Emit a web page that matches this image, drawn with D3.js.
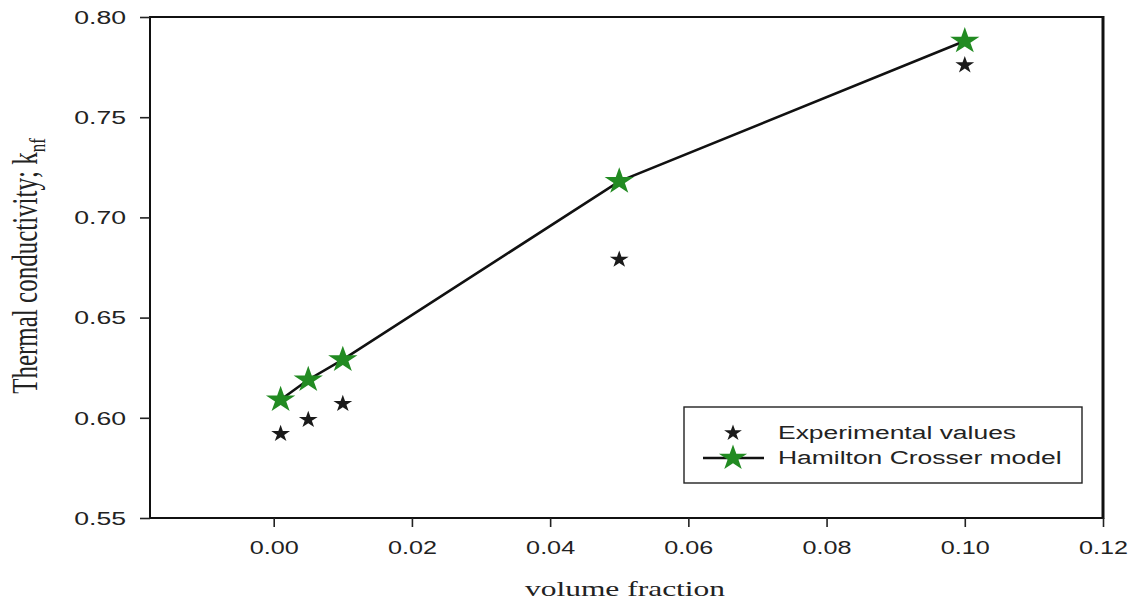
<!DOCTYPE html>
<html>
<head>
<meta charset="utf-8">
<script src="https://cdn.jsdelivr.net/npm/d3@7"></script>
<style>
  html, body { margin: 0; padding: 0; background: #fff; }
  svg { display: block; }
</style>
</head>
<body>
<svg id="chart" width="1137" height="605"></svg>
<script>
// Volume fractions of the nanofluid samples
const volumeFraction = [0.001, 0.005, 0.01, 0.05, 0.10];
// Measured thermal conductivity
const experimental = [0.592, 0.599, 0.607, 0.679, 0.776];
// Hamilton–Crosser model prediction
const hamiltonCrosser = [0.609, 0.619, 0.629, 0.718, 0.788];
const xTicks = [0.00, 0.02, 0.04, 0.06, 0.08, 0.10, 0.12];
const yTicks = [0.55, 0.60, 0.65, 0.70, 0.75, 0.80];
const legendLabels = ["Experimental values", "Hamilton Crosser model"];

const svg = d3.select("#chart");
const plotLeft = 150, plotRight = 1103, plotTop = 17, plotBottom = 518;

const x = d3.scaleLinear().domain([-0.0179, 0.12]).range([plotLeft, plotRight]);
const y = d3.scaleLinear().domain([0.55, 0.80]).range([plotBottom, plotTop]);

const green = "#228B22";
const ink = "#222";
const sansFont = "'Liberation Sans', Arial, sans-serif";
const serifFont = "'Liberation Serif', 'Times New Roman', serif";
// The figure's lettering is set wide
const wide = 1.44;

// Frame
svg.append("rect")
  .attr("x", plotLeft).attr("y", plotTop)
  .attr("width", plotRight - plotLeft).attr("height", plotBottom - plotTop)
  .attr("fill", "none").attr("stroke", "#111").attr("stroke-width", 2);
svg.append("line")
  .attr("x1", plotRight).attr("x2", plotRight).attr("y1", plotTop - 1).attr("y2", plotBottom + 1)
  .attr("stroke", "#111").attr("stroke-width", 3);

// Axes
const fmt = d3.format(".2f");
const yAxis = svg.append("g")
  .attr("transform", `translate(${plotLeft},0)`)
  .call(d3.axisLeft(y).tickValues(yTicks).tickFormat(fmt).tickSize(10));
const xAxis = svg.append("g")
  .attr("transform", `translate(0,${plotBottom})`)
  .call(d3.axisBottom(x).tickValues(xTicks).tickFormat(fmt).tickSize(9));

[yAxis, xAxis].forEach(g => {
  g.select(".domain").remove();
  g.selectAll(".tick line").attr("stroke", ink).attr("stroke-width", 1.6);
  g.selectAll(".tick text")
    .attr("fill", ink)
    .style("font-family", sansFont);
});
yAxis.selectAll(".tick text")
  .style("font-size", "18.5px")
  .attr("transform", `scale(${wide},1)`)
  .attr("x", -24 / wide)
  .attr("dy", "0.34em");
xAxis.selectAll(".tick text")
  .style("font-size", "17.5px")
  .attr("transform", `scale(${wide},1)`)
  .attr("y", 36)
  .attr("dy", 0);

// Axis titles
svg.append("g")
  .attr("transform", `translate(625,596) scale(1.5,1)`)
  .append("text")
  .attr("text-anchor", "middle")
  .style("font-family", serifFont).style("font-size", "21px").attr("fill", ink)
  .text("volume fraction");

const yTitle = svg.append("g")
  .attr("transform", `translate(37,266) scale(1.4,1) rotate(-90)`)
  .append("text")
  .attr("text-anchor", "middle")
  .style("font-family", serifFont).style("font-size", "25px").attr("fill", ink);
yTitle.append("tspan").text("Thermal conductivity; k");
yTitle.append("tspan").attr("dy", 6).style("font-size", "17px").text("nf");

const star = d3.symbol().type(d3.symbolStar);
const sizeFor = R => R * R / 0.8908130915292852;

// Model line
const line = d3.line()
  .x((d, i) => x(volumeFraction[i]))
  .y(d => y(d));
svg.append("path")
  .datum(hamiltonCrosser)
  .attr("d", line)
  .attr("fill", "none").attr("stroke", "#111").attr("stroke-width", 2.6);

// Experimental points
svg.append("g").selectAll("path")
  .data(experimental)
  .join("path")
  .attr("transform", (d, i) => `translate(${x(volumeFraction[i])},${y(d)}) scale(1.1,1)`)
  .attr("d", star.size(sizeFor(9))())
  .attr("fill", "#1a1a1a");

// Model points
svg.append("g").selectAll("path")
  .data(hamiltonCrosser)
  .join("path")
  .attr("transform", (d, i) => `translate(${x(volumeFraction[i])},${y(d)}) scale(1.1,1)`)
  .attr("d", star.size(sizeFor(14))())
  .attr("fill", green);

// Legend
const lg = svg.append("g");
lg.append("rect")
  .attr("x", 684).attr("y", 407).attr("width", 398).attr("height", 76)
  .attr("fill", "#fff").attr("stroke", ink).attr("stroke-width", 1.4);
lg.append("path")
  .attr("transform", "translate(733,433) scale(1.1,1)")
  .attr("d", star.size(sizeFor(8.5))())
  .attr("fill", "#1a1a1a");
lg.append("line")
  .attr("x1", 703).attr("x2", 764).attr("y1", 458).attr("y2", 458)
  .attr("stroke", "#111").attr("stroke-width", 2.6);
lg.append("path")
  .attr("transform", "translate(733,458) scale(1.1,1)")
  .attr("d", star.size(sizeFor(13.5))())
  .attr("fill", green);
lg.selectAll("g.lbl")
  .data(legendLabels)
  .join("g")
  .attr("class", "lbl")
  .attr("transform", (d, i) => `translate(778,${433 + i * 25}) scale(1.47,1)`)
  .append("text")
  .attr("dy", "0.35em")
  .style("font-family", sansFont).style("font-size", "18px").attr("fill", ink)
  .text(d => d);
</script>
</body>
</html>
